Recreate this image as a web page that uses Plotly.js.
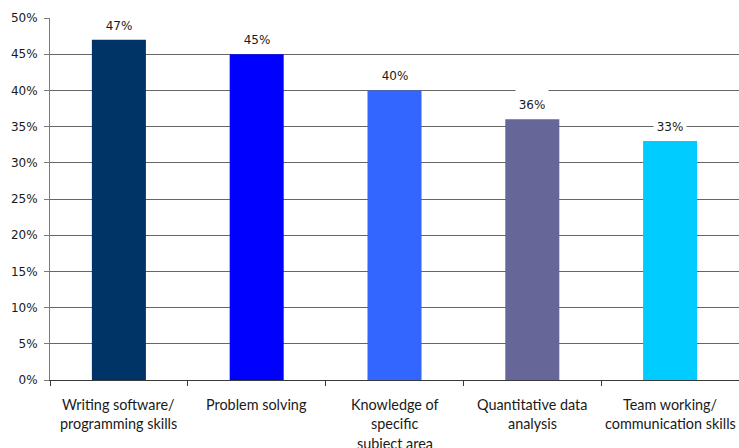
<!DOCTYPE html>
<html>
<head>
<meta charset="utf-8">
<script src="https://cdn.plot.ly/plotly-3.0.1.min.js"></script>
<style>
  html, body { margin: 0; padding: 0; background: #fff; }
  #chart { width: 739px; height: 448px; }
</style>
</head>
<body>
<div id="chart"></div>
<script>
// Skills categories and the share of respondents naming each one
const categories = [
  'Writing software/<br>programming skills',
  'Problem solving',
  'Knowledge of<br>specific<br>subject area',
  'Quantitative data<br>analysis',
  'Team working/<br>communication skills'
];
const shares = [0.47, 0.45, 0.40, 0.36, 0.33];
const barColors = ['#003366', '#0000ff', '#3366ff', '#666699', '#00ccff'];
const yTickValues = [0, 0.05, 0.10, 0.15, 0.20, 0.25, 0.30, 0.35, 0.40, 0.45, 0.50];

const valueFont = { family: 'DejaVu Sans, Verdana, sans-serif', size: 12, color: '#1a1a1a' };
const catFont = { family: 'Lato, Calibri, sans-serif', size: 14.4, color: '#1a1a1a' };

const trace = {
  type: 'bar',
  x: categories,
  y: shares,
  marker: { color: barColors, line: { width: 0 } },
  hoverinfo: 'skip'
};

// Value labels sit on white boxes that break the gridlines behind them
const valueLabels = categories.map((c, i) => ({
  x: c, y: shares[i], xref: 'x', yref: 'y',
  text: Math.round(shares[i] * 100) + '%',
  showarrow: false,
  font: valueFont,
  bgcolor: '#ffffff',
  borderpad: 3,
  width: 26,
  height: 23,
  valign: 'bottom',
  xanchor: 'center',
  yanchor: 'bottom',
  yshift: 3
}));

// Category names, one annotation per line for Excel-like line spacing
const catLabels = [];
categories.forEach(c => {
  c.split('<br>').forEach((line, j) => {
    catLabels.push({
      x: c, y: 0, xref: 'x', yref: 'y',
      text: line,
      showarrow: false,
      font: catFont,
      xanchor: 'center',
      yanchor: 'middle',
      yshift: -24 - 19.5 * j
    });
  });
});

const layout = {
  width: 739,
  height: 448,
  margin: { l: 50, r: 0, t: 18, b: 68, pad: 0 },
  paper_bgcolor: '#ffffff',
  plot_bgcolor: '#ffffff',
  showlegend: false,
  bargap: 0.608,
  xaxis: {
    type: 'category',
    showticklabels: false,
    showline: true,
    linecolor: '#3a3a3a',
    linewidth: 1,
    ticks: 'outside',
    tickson: 'boundaries',
    ticklen: 5,
    tickcolor: '#3a3a3a',
    showgrid: false,
    zeroline: false,
    fixedrange: true
  },
  yaxis: {
    range: [0, 0.5],
    tickvals: yTickValues,
    tickformat: '.0%',
    tickfont: valueFont,
    ticks: 'outside',
    ticklen: 5,
    tickcolor: '#7a7a7a',
    showline: true,
    linecolor: '#7a7a7a',
    linewidth: 1,
    showgrid: true,
    gridcolor: '#666666',
    gridwidth: 1,
    zeroline: false,
    ticklabelstandoff: 4,
    fixedrange: true
  },
  annotations: valueLabels.concat(catLabels)
};

Plotly.newPlot('chart', [trace], layout, { staticPlot: true, displayModeBar: false });
</script>
</body>
</html>
